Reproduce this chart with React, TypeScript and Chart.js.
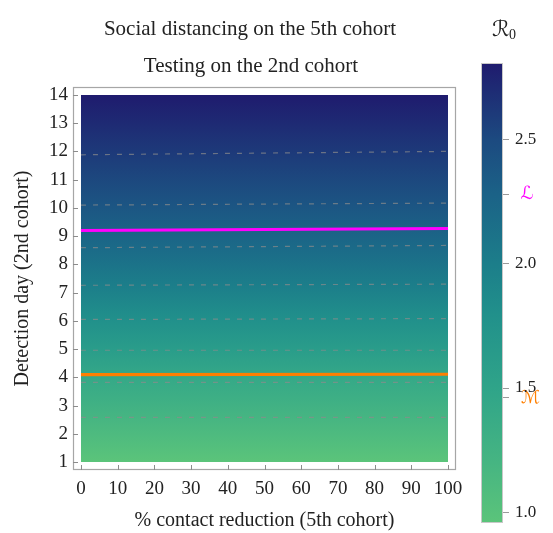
import React, { useEffect, useRef } from 'react';
import { Chart, registerables } from 'chart.js';

Chart.register(...registerables);

// ---- data ----
const titleLine1 = 'Social distancing on the 5th cohort';
const titleLine2 = 'Testing on the 2nd cohort';
const xAxisTitle = '% contact reduction (5th cohort)';
const yAxisTitle = 'Detection day (2nd cohort)';

const xTicks = [0, 10, 20, 30, 40, 50, 60, 70, 80, 90, 100];
const yTicks = [1, 2, 3, 4, 5, 6, 7, 8, 9, 10, 11, 12, 13, 14];

const contactRange = [0, 100];
// R0 across detection day (almost independent of contact reduction)
const gridDays = [1, 2.58, 3.82, 4.96, 6.05, 7.26, 8.59, 10.1, 11.88, 14];
const gridR0 = [0.96, 1.2, 1.4, 1.6, 1.8, 2.0, 2.2, 2.4, 2.6, 2.81];

// contour lines (R0 levels) : day at 0% and at 100% contact reduction
const contourLevels = [1.2, 1.4, 1.6, 1.8, 2.0, 2.2, 2.4, 2.6];
const contourDayAt0 = [2.58, 3.82, 4.96, 6.05, 7.26, 8.59, 10.1, 11.88];
const contourDayAt100 = [2.58, 3.82, 4.96, 6.08, 7.3, 8.67, 10.17, 12.0];

// threshold curves
const lineLDays = [9.2, 9.27];
const lineMDays = [4.1, 4.11];

// colorbar
const cbMin = 0.956;
const cbMax = 2.81;
const cbTicks = [1.0, 1.5, 2.0, 2.5];
const valueL = 2.28;
const valueM = 1.46;
const cmapValues = [0.956, 1.2, 1.5, 1.8, 2.0, 2.28, 2.5, 2.81];
const cmapColors = ['#5bc47a', '#46b582', '#2fa489', '#21908b', '#1c7e8a', '#1b6287', '#1c4a80', '#1f1b6e'];

// ---- styles ----
const FONT = "'Liberation Serif', 'DejaVu Serif', serif";
const SCRIPT_FONT = "'DejaVu Serif', 'DejaVu Sans', serif";
const TEXT = '#222222';
const FRAME = '#a6a6a6';
const MAGENTA = '#ff00ff';
const ORANGE = '#ff7f00';

function hexToRgb(h: string) {
  const v = parseInt(h.slice(1), 16);
  return [(v >> 16) & 255, (v >> 8) & 255, v & 255];
}
function colorFor(r0: number) {
  if (r0 <= cmapValues[0]) return cmapColors[0];
  for (let i = 1; i < cmapValues.length; i++) {
    if (r0 <= cmapValues[i]) {
      const t = (r0 - cmapValues[i - 1]) / (cmapValues[i] - cmapValues[i - 1]);
      const a = hexToRgb(cmapColors[i - 1]);
      const b = hexToRgb(cmapColors[i]);
      const c = a.map((v, k) => Math.round(v + (b[k] - v) * t));
      return `rgb(${c[0]},${c[1]},${c[2]})`;
    }
  }
  return cmapColors[cmapColors.length - 1];
}

function heatGradient(context: any) {
  const chart = context.chart;
  const { ctx, chartArea, scales } = chart;
  if (!chartArea) return 'rgba(0,0,0,0)';
  const y = scales.y;
  const p0 = y.getPixelForValue(gridDays[0]);
  const p1 = y.getPixelForValue(gridDays[gridDays.length - 1]);
  const g = ctx.createLinearGradient(0, p0, 0, p1);
  gridDays.forEach((d, i) => {
    const t = (y.getPixelForValue(d) - p0) / (p1 - p0);
    g.addColorStop(Math.min(1, Math.max(0, t)), colorFor(gridR0[i]));
  });
  return g;
}

function barGradient(context: any) {
  const chart = context.chart;
  const { ctx, chartArea, scales } = chart;
  if (!chartArea) return 'rgba(0,0,0,0)';
  const y = scales.y;
  const p0 = y.getPixelForValue(cbMin);
  const p1 = y.getPixelForValue(cbMax);
  const g = ctx.createLinearGradient(0, p0, 0, p1);
  cmapValues.forEach((v, i) => {
    const t = (y.getPixelForValue(v) - p0) / (p1 - p0);
    g.addColorStop(Math.min(1, Math.max(0, t)), cmapColors[i]);
  });
  return g;
}

const titlesPlugin = {
  id: 'titles',
  afterDraw(chart: any) {
    const { ctx } = chart;
    ctx.save();
    ctx.font = `21px ${FONT}`;
    ctx.fillStyle = TEXT;
    ctx.textAlign = 'center';
    ctx.textBaseline = 'middle';
    ctx.fillText(titleLine1, 250, 29);
    ctx.fillText(titleLine2, 251, 66);
    ctx.restore();
  },
};

const framePlugin = {
  id: 'frame',
  afterDatasetsDraw(chart: any) {
    const { ctx, chartArea, scales } = chart;
    ctx.save();
    ctx.strokeStyle = FRAME;
    ctx.lineWidth = 1.2;
    ctx.strokeRect(
      Math.round(chartArea.left) + 0.5,
      Math.round(chartArea.top) + 0.5,
      Math.round(chartArea.right - chartArea.left) - 1,
      Math.round(chartArea.bottom - chartArea.top) - 1
    );
    ctx.lineWidth = 1;
    ctx.strokeStyle = '#8c8c8c';
    ctx.beginPath();
    xTicks.forEach((v) => {
      const px = Math.round(scales.x.getPixelForValue(v)) + 0.5;
      ctx.moveTo(px, chartArea.bottom);
      ctx.lineTo(px, chartArea.bottom - 5);
    });
    yTicks.forEach((v) => {
      const py = Math.round(scales.y.getPixelForValue(v)) + 0.5;
      ctx.moveTo(chartArea.left, py);
      ctx.lineTo(chartArea.left + 5, py);
    });
    ctx.stroke();
    ctx.restore();
  },
};

const r0LabelPlugin = {
  id: 'r0label',
  afterDraw(chart: any) {
    const { ctx, chartArea } = chart;
    ctx.save();
    ctx.fillStyle = TEXT;
    ctx.textAlign = 'left';
    ctx.textBaseline = 'alphabetic';
    ctx.font = `italic 22px ${SCRIPT_FONT}`;
    ctx.fillText('\u211B', 32, 36);
    ctx.font = `14px ${FONT}`;
    ctx.fillText('0', 49, 39);
    ctx.strokeStyle = '#c8c8c8';
    ctx.lineWidth = 1;
    ctx.strokeRect(
      Math.round(chartArea.left) + 0.5,
      Math.round(chartArea.top) + 0.5,
      Math.round(chartArea.right - chartArea.left) - 1,
      Math.round(chartArea.bottom - chartArea.top) - 1
    );
    ctx.restore();
  },
};

function lineDataset(days: number[], color: string, width: number, dash: number[]) {
  return {
    data: contactRange.map((x, i) => ({ x, y: days[i] })),
    borderColor: color,
    borderWidth: width,
    borderDash: dash,
    pointRadius: 0,
    fill: false,
    tension: 0,
    order: 1,
  };
}

export default function App() {
  const mainRef = useRef<HTMLCanvasElement>(null);
  const cbRef = useRef<HTMLCanvasElement>(null);

  useEffect(() => {
    if (!mainRef.current || !cbRef.current) return;
    const tickFont = { family: FONT, size: 19 };

    const contourSets = contourLevels.map((_, i) =>
      lineDataset([contourDayAt0[i], contourDayAt100[i]], 'rgba(140,140,140,0.7)', 1.2, [5, 7])
    );

    const main = new Chart(mainRef.current, {
      type: 'line',
      data: {
        datasets: [
          lineDataset(lineLDays, MAGENTA, 3.2, []),
          lineDataset(lineMDays, ORANGE, 3.2, []),
          ...contourSets,
          {
            data: contactRange.map((x) => ({ x, y: gridDays[gridDays.length - 1] })),
            borderWidth: 0,
            borderColor: 'rgba(0,0,0,0)',
            backgroundColor: heatGradient,
            pointRadius: 0,
            fill: { value: gridDays[0] },
            order: 100,
          },
        ] as any,
      },
      options: {
        animation: false,
        responsive: false,
        layout: { padding: { left: 0, right: 97, top: 87, bottom: 0 } },
        plugins: { legend: { display: false }, tooltip: { enabled: false } },
        scales: {
          x: {
            type: 'linear',
            min: -2.17,
            max: 102.17,
            afterBuildTicks: (s: any) => {
              s.ticks = xTicks.map((v) => ({ value: v }));
            },
            afterFit: (s: any) => {
              s.height = 63;
            },
            ticks: { font: tickFont, color: TEXT, padding: 8, maxRotation: 0, autoSkip: false },
            grid: { display: false, drawTicks: false },
            border: { display: false },
            title: {
              display: true,
              text: xAxisTitle,
              font: { family: FONT, size: 20 },
              color: TEXT,
              padding: { top: 0, bottom: 0 },
            },
          },
          y: {
            type: 'linear',
            min: 0.72,
            max: 14.28,
            afterBuildTicks: (s: any) => {
              s.ticks = yTicks.map((v) => ({ value: v }));
            },
            afterFit: (s: any) => {
              s.width = 73;
            },
            ticks: { font: tickFont, color: TEXT, padding: 5, autoSkip: false },
            grid: { display: false, drawTicks: false },
            border: { display: false },
            title: {
              display: true,
              text: yAxisTitle,
              font: { family: FONT, size: 20 },
              color: TEXT,
              padding: { top: 11, bottom: 0 },
            },
          },
        },
      } as any,
      plugins: [titlesPlugin, framePlugin],
    });

    const cbTickValues = [...cbTicks, valueL, valueM].sort((a, b) => a - b);

    const cb = new Chart(cbRef.current, {
      type: 'bar',
      data: {
        labels: ['R0'],
        datasets: [
          {
            data: [[cbMin, cbMax]],
            backgroundColor: barGradient,
            borderWidth: 0,
            barPercentage: 1,
            categoryPercentage: 1,
          },
        ] as any,
      },
      options: {
        animation: false,
        responsive: false,
        layout: { padding: { left: 21, right: 0, top: 63, bottom: 10 } },
        plugins: { legend: { display: false }, tooltip: { enabled: false } },
        scales: {
          x: { display: false },
          y: {
            position: 'right',
            min: cbMin,
            max: cbMax,
            afterBuildTicks: (s: any) => {
              s.ticks = cbTickValues.map((v) => ({ value: v }));
            },
            afterFit: (s: any) => {
              s.width = 50;
              s.paddingTop = 0;
              s.paddingBottom = 0;
            },
            ticks: {
              autoSkip: false,
              padding: 6,
              callback: (v: any) => (v === valueL ? ' \u2112' : v === valueM ? ' \u2133' : Number(v).toFixed(1)),
              color: (c: any) =>
                c.tick && c.tick.value === valueL ? MAGENTA : c.tick && c.tick.value === valueM ? ORANGE : TEXT,
              font: (c: any) =>
                c.tick && (c.tick.value === valueL || c.tick.value === valueM)
                  ? { family: SCRIPT_FONT, size: 18, style: 'italic' }
                  : { family: FONT, size: 17 },
            },
            grid: { drawOnChartArea: false, drawTicks: true, tickLength: 6, color: '#9a9a9a' },
            border: { display: false },
          },
        },
      } as any,
      plugins: [r0LabelPlugin],
    });

    return () => {
      main.destroy();
      cb.destroy();
    };
  }, []);

  return (
    <div style={{ position: 'absolute', left: 0, top: 0, width: 553, height: 533, background: '#fff' }}>
      <canvas ref={mainRef} width={553} height={533} style={{ position: 'absolute', left: 0, top: 0 }} />
      <canvas ref={cbRef} width={93} height={533} style={{ position: 'absolute', left: 460, top: 0 }} />
    </div>
  );
}
